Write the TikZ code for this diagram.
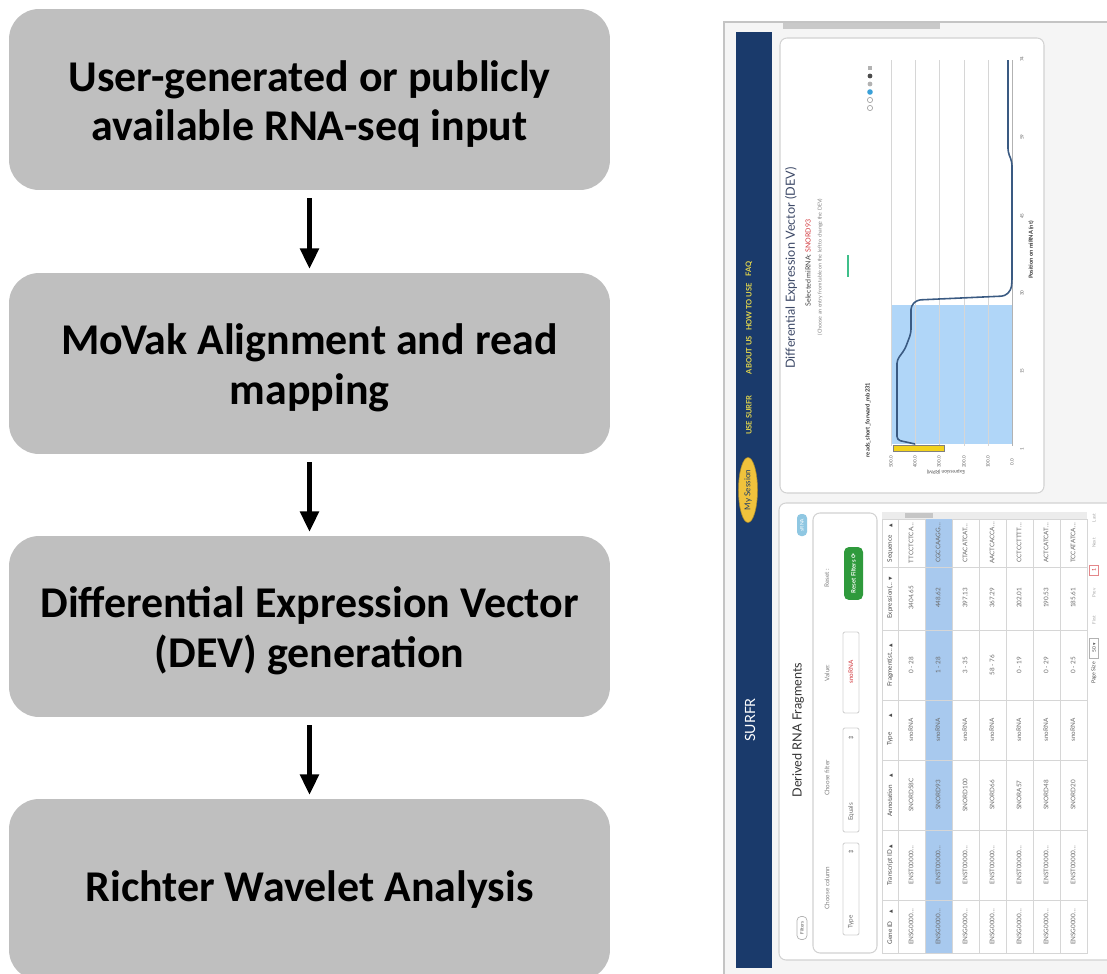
\documentclass[tikz,border=0pt]{standalone}
\usepackage{fontspec}
\setmainfont{Carlito}
\newfontfamily\uifont{Lato}
\newfontfamily\symbfont{DejaVu Sans}
\usetikzlibrary{arrows.meta,shapes.geometric}

\definecolor{boxgray}{HTML}{BFBFBF}
\definecolor{shotbg}{HTML}{F5F5F5}
\definecolor{framegray}{HTML}{C4C4C4}
\definecolor{barsgray}{HTML}{C9C9C9}
\definecolor{navblue}{HTML}{1A3A6B}
\definecolor{navyellow}{HTML}{E3D64C}
\definecolor{sessionyellow}{HTML}{F0C23C}
\definecolor{panelgray}{HTML}{D2D2D2}
\definecolor{titleslate}{HTML}{3E4A68}
\definecolor{snored}{HTML}{D2373C}
\definecolor{devgreen}{HTML}{3FBF8A}
\definecolor{gridgray}{HTML}{D6D6D6}
\definecolor{areablue}{HTML}{B0D6F8}
\definecolor{curveblue}{HTML}{3A5A82}
\definecolor{iconblue}{HTML}{3AA0D8}
\definecolor{tipyellow}{HTML}{F2D21C}
\definecolor{rowblue}{HTML}{A8C9EE}
\definecolor{tabletext}{HTML}{6A6A6A}
\definecolor{pillblue}{HTML}{8FC7E2}
\definecolor{btngreen}{HTML}{2F9A3C}

\newcommand{\sortup}{{\symbfont\fontsize{2.6}{3}\selectfont ▲}}
\newcommand{\sortdown}{{\symbfont\fontsize{2.6}{3}\selectfont ▼}}
\newcommand{\stepline}[1]{\raisebox{-2.6pt}[\height][\depth]{#1}}

\tikzset{
  stepbox/.style={fill=boxgray, rounded corners=0.6cm, minimum width=12.02cm,
    minimum height=3.62cm, align=center, font=\fontsize{25}{28.4}\selectfont\bfseries},
  flowarrow/.style={line width=2.4pt, -{Triangle[length=11.5pt,width=10.5pt]},
    shorten <=0.16cm, shorten >=0.08cm},
  navtext/.style={rotate=90, text=navyellow, font=\uifont\bfseries\fontsize{4.3}{5}\selectfont},
  session/.style={ellipse, rotate=90, fill=sessionyellow, draw=sessionyellow!70!black,
    line width=0.3pt, minimum width=1.3cm, minimum height=0.38cm, text=navblue,
    font=\uifont\fontsize{4.6}{5}\selectfont},
  panel/.style={draw=panelgray, fill=white, line width=0.6pt, rounded corners=0.14cm},
  uptext/.style={rotate=90, text=tabletext, font=\uifont\fontsize{3.6}{4}\selectfont},
  headtext/.style={rotate=90, text=black!70, font=\uifont\fontsize{3.6}{4}\selectfont},
  ticklabel/.style={rotate=90, text=black!60, font=\uifont\fontsize{2.6}{3}\selectfont},
  fieldbox/.style={draw=panelgray, fill=white, line width=0.5pt, rounded corners=0.04cm},
}

\begin{document}
\begin{tikzpicture}[x=0.02cm,y=-0.02cm]
    \tikzstyle{every node}+=[inner sep=0pt]
    \clip (0,0) rectangle (1107,974);
    \fill [white] (0,0) rectangle (1107,974);

    % pipeline steps
    \node [stepbox] (input) at (309.5,99.5) {\stepline{User-generated or publicly}\\\stepline{available RNA-seq input}};
    \node [stepbox] (align) at (309.5,363.5) {\stepline{MoVak Alignment and read}\\\stepline{mapping}};
    \node [stepbox] (dev) at (309.5,626.5) {\stepline{Differential Expression Vector}\\\stepline{(DEV) generation}};
    \node [stepbox] (wavelet) at (309.5,889.5) {Richter Wavelet Analysis};
    \draw [flowarrow] (input.south) -- (align.north);
    \draw [flowarrow] (align.south) -- (dev.north);
    \draw [flowarrow] (dev.south) -- (wavelet.north);

    % SURFR screen shot, turned on its side
    \fill [shotbg] (724,22) rectangle (1107,974);
    \draw [framegray, line width=0.6pt] (724,974) -- (724,22) -- (1107,22);
    \fill [barsgray] (783,23) rectangle (940,29);
    \fill [navblue] (736,32) rectangle (772,968);
    \node [navtext] (faq) at (749,269) {FAQ};
    \node [navtext] (howto) at (749,307) {HOW TO USE};
    \node [navtext] (about) at (749,355) {ABOUT US};
    \node [navtext] (usesurfr) at (749,415) {USE SURFR};
    \node [session] (session) at (748,490) {My Session};
    \node [rotate=90, text=white, font=\uifont\fontsize{8}{9}\selectfont] (logo) at (750,720) {SURFR};

    % DEV chart
    \draw [panel] (780,38) rectangle (1044,493);
    \node [rotate=90, text=titleslate, font=\uifont\fontsize{7.2}{8}\selectfont] (devtitle) at (791,268) {Differential Expression Vector (DEV)};
    \node [rotate=90, text=black!75, font=\uifont\fontsize{4}{5}\selectfont] (selected) at (808,263) {Selected miRNA: \textcolor{snored}{SNORD93}};
    \node [rotate=90, text=black!50, font=\uifont\fontsize{3}{4}\selectfont] (choose) at (820,267) {(Choose an entry from table on the left to change the DEV)};
    \draw [devgreen, line width=1.1pt] (848,255) -- (848,277);
    \draw [gray!70, line width=0.4pt] (870,108) circle (2.6);
    \draw [gray!70, line width=0.4pt] (870,100) circle (2.6);
    \fill [iconblue] (870,92) circle (2.8);
    \fill [gray!60] (870,84) circle (2.4);
    \fill [black!70] (870,76) circle (2.4);
    \fill [gray!60] (868,66) rectangle (872,70);
    \fill [areablue] (891,305) rectangle (1012,444);
    \foreach \gx in {891,915,939,964,988}
        \draw [gridgray, line width=0.4pt] (\gx,60) -- (\gx,446);
    \draw [gray!60, line width=0.4pt] (1012,60) -- (1012,446);
    \draw [curveblue, line width=0.9pt, rounded corners=2pt] (915,444) -- (897,440) -- (897,360)
        -- (905,349) -- (911,333) -- (911,306) -- (917,300) -- (1005,296) -- (1011,290)
        -- (1012,282) -- (1012,162) -- (1008,152) -- (1008,60);
    \fill [tipyellow] (893,445) rectangle (944,451);
    \draw [black!50, line width=0.3pt] (893,445) rectangle (944,451);
    \node [rotate=90, text=black!80, font=\uifont\bfseries\fontsize{3.3}{4}\selectfont] (series) at (868,420) {reads\_short\_forward\_mb231};
    \foreach \gx/\lab in {891/500.0,915/400.0,939/300.0,964/200.0,988/100.0,1012/0.0}
        \node [ticklabel] (val\gx) at (\gx,462) {\lab};
    \foreach \py/\lab in {449/1,371/15,293/30,216/45,137/59,59/74}
        \node [ticklabel] (pos\py) at (1022,\py) {\lab};
    \node [rotate=180, text=black!70, font=\uifont\fontsize{2.8}{3}\selectfont] (exprtitle) at (946,472) {Expression (RPM)};
    \node [rotate=90, text=black!80, font=\uifont\bfseries\fontsize{3.2}{4}\selectfont] (postitle) at (1031,250) {Position on miRNA (nt)};

    % fragments table panel
    \draw [panel] (779,503) rectangle (1130,960);
    \node [rotate=90, fill=pillblue, rounded corners=0.08cm, minimum width=0.44cm, minimum height=0.2cm,
        text=white, font=\uifont\fontsize{2.8}{3}\selectfont] (srna) at (802,525) {sRNA};
    \node [rotate=90, text=black!80, font=\uifont\fontsize{7.2}{8}\selectfont] (fragtitle) at (798,730) {Derived RNA Fragments};
    \node [rotate=90, draw=gray!60, rounded corners=0.08cm, minimum width=0.46cm, minimum height=0.2cm,
        text=black!70, font=\uifont\fontsize{2.6}{3}\selectfont] (filters) at (802,928) {Filters};
    \draw [panel] (813,513) rectangle (877,953);
    \node [uptext, text=black!50] (collabel) at (827,888) {Choose column};
    \node [uptext, text=black!50] (filterlabel) at (827,778) {Choose filter};
    \node [uptext, text=black!50] (valuelabel) at (827,673) {Value:};
    \node [uptext, text=black!50] (resetlabel) at (827,578) {Reset :};
    \draw [fieldbox] (843,843) rectangle (859,935);
    \node [uptext] (typesel) at (851,922) {Type};
    \node [uptext] (typemark) at (851,852) {\symbfont ⇕};
    \draw [fieldbox] (843,728) rectangle (859,832);
    \node [uptext] (equalssel) at (851,812) {Equals};
    \node [uptext] (equalsmark) at (851,738) {\symbfont ⇕};
    \draw [fieldbox] (843,632) rectangle (859,713);
    \node [uptext, text=snored] (valuein) at (851,672) {snoRNA};
    \node [rotate=90, fill=btngreen, rounded corners=0.1cm, minimum width=1.06cm, minimum height=0.38cm,
        text=white, font=\uifont\bfseries\fontsize{3.4}{4}\selectfont] (resetbtn) at (853.5,573.5) {Reset Filters \symbfont ⟳};

    \fill [gray!15] (882,512) rectangle (1087,519);
    \fill [gray!45] (905,513) rectangle (933,518);
    \draw [gridgray, fill=white, line width=0.5pt] (882,519) rectangle (1087,953);
    \fill [rowblue] (925,519) rectangle (952,953);
    \foreach \rx in {898,925,952,979,1006,1033,1060}
        \draw [gridgray, line width=0.4pt] (\rx,519) -- (\rx,953);
    \foreach \cy in {567,630,700,760,830,900}
        \draw [gridgray, line width=0.4pt] (882,\cy) -- (1087,\cy);
    \node [headtext] (hgene) at (890,927) {Gene ID \quad\sortup};
    \node [headtext] (htranscript) at (890,865) {Transcript ID \sortup};
    \node [headtext] (hannot) at (890,795) {Annotation \quad\sortup};
    \node [headtext] (htype) at (890,730) {Type \qquad\sortup};
    \node [headtext] (hfrag) at (890,665) {Fragment(st\dots\ \sortup};
    \node [headtext] (hexpr) at (890,598) {Expression(\dots\ \sortdown};
    \node [headtext] (hseq) at (890,543) {Sequence \quad\sortup};
    \foreach \rx/\ann/\frag/\expr/\seq in {
        911/SNORD58C/0 - 28/3404.65/TTCCTCTCA,
        938/SNORD93/1 - 28/448.62/CGCCAAGG,
        965/SNORD100/3 - 35/397.13/CTACATCAT,
        992/SNORD66/58 - 76/367.29/AACTCACCA,
        1019/SNORA57/0 - 19/202.01/CCTCCTTTT,
        1046/SNORD48/0 - 29/190.53/ACTCATCAT,
        1073/SNORD20/0 - 25/185.61/TCCATATCA} {
        \node [uptext] (gene\rx) at (\rx,927) {ENSG0000\dots};
        \node [uptext] (transcript\rx) at (\rx,865) {ENST00000\dots};
        \node [uptext] (annot\rx) at (\rx,795) {\ann};
        \node [uptext] (type\rx) at (\rx,730) {snoRNA};
        \node [uptext] (frag\rx) at (\rx,665) {\frag};
        \node [uptext] (expr\rx) at (\rx,598) {\expr};
        \node [uptext] (seq\rx) at (\rx,543) {\seq\dots};
    }
    \node [ticklabel, text=black!70, font=\uifont\fontsize{3}{3.5}\selectfont] (pagesize) at (1094,673) {Page Size};
    \node [rotate=90, draw=gray!60, minimum width=0.4cm, minimum height=0.18cm,
        text=black!70, font=\uifont\fontsize{2.8}{3}\selectfont] (pagesel) at (1094,648) {50 \symbfont ▾};
    \node [ticklabel, text=black!35] (first) at (1094,620) {First};
    \node [ticklabel, text=black!35] (prev) at (1094,593) {Prev};
    \node [rotate=90, draw=snored!60, minimum width=0.2cm, minimum height=0.18cm,
        text=snored, font=\uifont\fontsize{3}{3}\selectfont] (pageone) at (1094,570) {1};
    \node [ticklabel, text=black!35] (next) at (1094,543) {Next};
    \node [ticklabel, text=black!35] (last) at (1094,518) {Last};
\end{tikzpicture}
\end{document}
